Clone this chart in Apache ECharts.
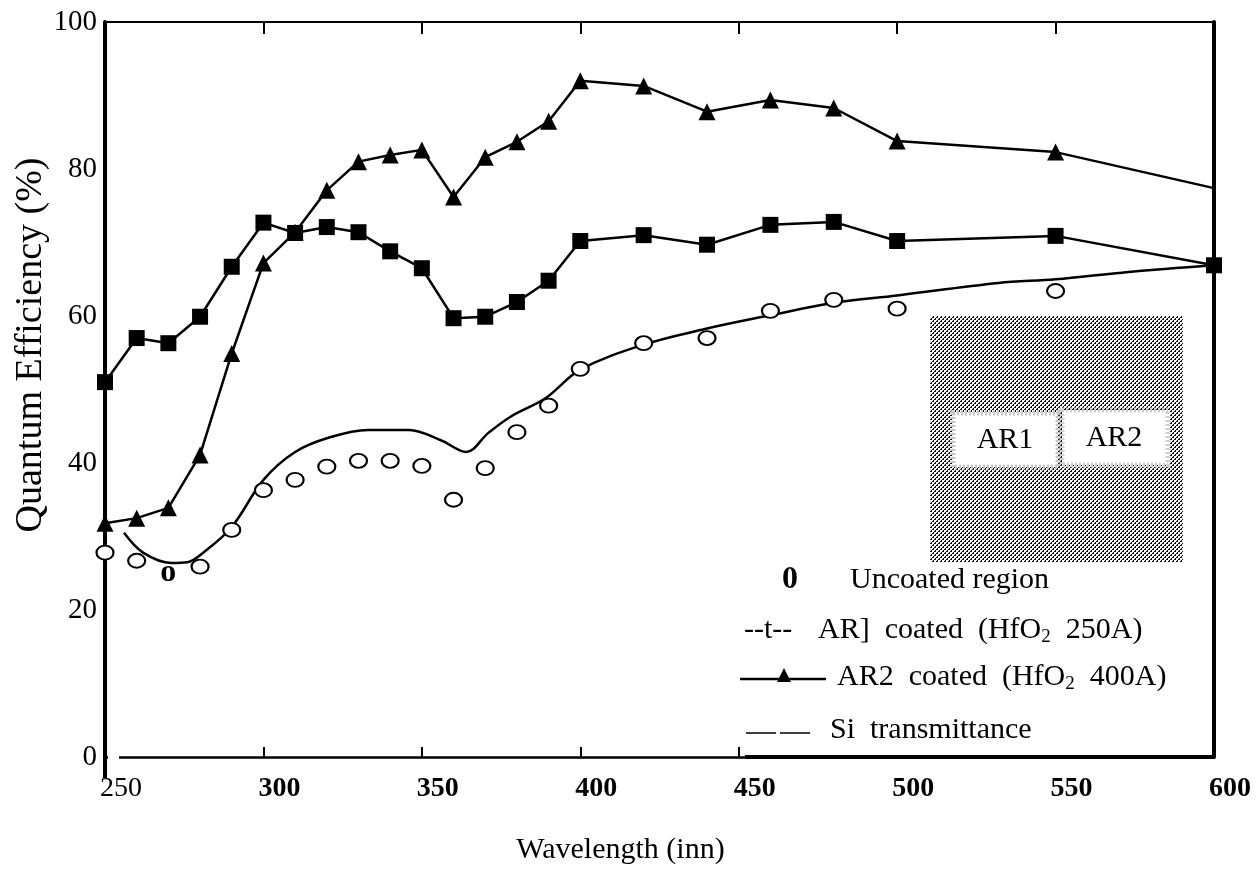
<!DOCTYPE html>
<html>
<head>
<meta charset="utf-8">
<script src="https://cdn.jsdelivr.net/npm/echarts@6/dist/echarts.min.js"></script>
<style>
html,body{margin:0;padding:0;background:#fff;}
#c{width:1257px;height:873px;}
</style>
</head>
<body>
<div id="c"></div>
<script>
// ---- data ----
var xTicks = [250, 300, 350, 400, 450, 500, 550, 600];
var yTicks = [0, 20, 40, 60, 80, 100];

var ar1Wave = [250,260,270,280,290,300,310,320,330,340,350,360,370,380,390,400,420,440,460,480,500,550,600];
var ar1QE   = [51.0,57.0,56.3,59.9,66.7,72.7,71.3,72.1,71.4,68.8,66.5,59.7,59.9,61.9,64.8,70.2,71.0,69.7,72.4,72.8,70.2,70.9,66.9];

var ar2Wave = [250,260,270,280,290,300,310,320,330,340,350,360,370,380,390,400,420,440,460,480,500,550,600];
var ar2QE   = [31.8,32.5,33.9,41.1,54.9,67.2,71.4,77.1,81.0,81.9,82.6,76.2,81.6,83.7,86.5,92.0,91.3,87.8,89.4,88.3,83.8,82.3,77.4];

var uncWave = [250,260,270,280,290,300,310,320,330,340,350,360,370,380,390,400,420,440,460,480,500,550];
var uncQE   = [27.8,26.7,24.4,25.9,30.9,36.3,37.7,39.5,40.3,40.3,39.6,35.0,39.3,44.2,47.8,52.8,56.3,57.0,60.7,62.2,61.0,63.4];

var siWave = [256,262,271,276,281,290,300,310,321,333,346,356,364,371,378,389,400,420,440,460,480,500,532,550,573,600];
var siT    = [30.5,27.8,26.4,26.5,27.8,31.3,37.7,41.5,43.5,44.5,44.5,43.1,41.5,44.1,46.3,48.8,52.7,56.1,58.3,60.1,61.8,62.8,64.5,65.0,66.0,66.9];

var FONT = 'Liberation Serif';

function pairs(xs, ys){ return xs.map(function(x,i){ return [x, ys[i]]; }); }

// halftone pattern for inset
function halftone(){
  var c = document.createElement('canvas'); c.width = 4; c.height = 4;
  var g = c.getContext('2d');
  g.fillStyle = '#fff'; g.fillRect(0,0,4,4);
  g.fillStyle = '#111';
  g.fillRect(0,0,2,2); g.fillRect(2,2,2,2);
  g.fillStyle = '#ddd';
  g.fillRect(0,0,1,1); g.fillRect(2,2,1,1);
  return c;
}

var ar2Data = pairs(ar2Wave, ar2QE).map(function(p,i){
  return i === ar2Wave.length-1 ? {value:p, symbol:'none'} : p;
});
var uncData = pairs(uncWave, uncQE).map(function(p){
  if (p[0] === 270) {
    return {value:p, symbolSize:0, label:{show:true, position:'inside', formatter:'o', fontFamily:FONT, fontWeight:'bold', fontSize:32, color:'#000', offset:[0,-5]}};
  }
  return p;
});

var chart = echarts.init(document.getElementById('c'), null, {renderer:'canvas'});
var option = {
  backgroundColor:'#fff',
  animation:false,
  grid:{left:105, right:43, top:22, bottom:116, containLabel:false, outerBoundsMode:'none'},
  xAxis:[{
    type:'value', min:250, max:600, interval:50, position:'bottom',
    axisLine:{show:true, onZero:false, lineStyle:{color:'#000', width:2.5}},
    axisTick:{show:true, inside:true, length:10, customValues:[300,350,400,450], lineStyle:{color:'#000', width:2}},
    axisLabel:{show:true, margin:18, color:'#000', padding:[0,0,0,32], customValues: xTicks,
      formatter:function(v){ return v === 250 ? '{r|' + v + '}' : '{b|' + v + '}'; },
      rich:{r:{fontFamily:FONT, fontSize:28, color:'#000'}, b:{fontFamily:FONT, fontSize:28, fontWeight:'bold', color:'#000'}}},
    splitLine:{show:false},
    name:'Wavelength (inn)', nameLocation:'middle', nameGap:78,
    nameTextStyle:{fontFamily:FONT, fontSize:30, color:'#000', padding:[0,78,0,0]}
  },{
    type:'value', min:250, max:600, interval:50, position:'top',
    axisLine:{show:true, onZero:false, lineStyle:{color:'#000', width:2}},
    axisTick:{show:true, inside:true, length:12, customValues:[300,350,400,450,500,550], lineStyle:{color:'#000', width:2}},
    axisLabel:{show:false}, splitLine:{show:false}
  }],
  yAxis:[{
    type:'value', min:0, max:100, interval:20, position:'left',
    axisLine:{show:true, onZero:false, lineStyle:{color:'#000', width:4}},
    axisTick:{show:false},
    axisLabel:{margin:8, fontFamily:FONT, fontSize:29, color:'#000', customValues: yTicks},
    splitLine:{show:false}
  },{
    type:'value', min:0, max:100, interval:20, position:'right',
    axisLine:{show:true, onZero:false, lineStyle:{color:'#000', width:4}},
    axisTick:{show:false}, axisLabel:{show:false}, splitLine:{show:false}
  }],
  series:[
    {
      name:'Si transmittance', type:'line', data:pairs(siWave, siT), smooth:0.35,
      symbol:'none', lineStyle:{color:'#000', width:2.5}, z:2
    },
    {
      name:'AR1', type:'line', data:pairs(ar1Wave, ar1QE), symbol:'rect', symbolSize:16,
      itemStyle:{color:'#000'}, lineStyle:{color:'#000', width:2.5}, z:3, clip:false
    },
    {
      name:'AR2', type:'line', data:ar2Data, symbol:'triangle', symbolSize:17,
      itemStyle:{color:'#000'}, lineStyle:{color:'#000', width:2.5}, z:3, clip:false
    },
    {
      name:'Uncoated', type:'scatter', data:uncData, symbol:'circle', symbolSize:[17,14],
      itemStyle:{color:'#fff', borderColor:'#000', borderWidth:2, opacity:1}, z:4
    }
  ],
  graphic:[
    // axis title (rotated)
    {type:'text', x:31, y:345, rotation:Math.PI/2, style:{text:'Quantum Efficiency (%)', font:'38px "Liberation Serif"', fill:'#000', align:'center', verticalAlign:'middle'}, z:12},
    // left axis continues a little below the frame, bottom frame starts after a gap
    {type:'line', shape:{x1:105, y1:757, x2:105, y2:778}, style:{stroke:'#000', lineWidth:4}, z:12},
    {type:'line', shape:{x1:108, y1:757, x2:119, y2:757}, style:{stroke:'#fff', lineWidth:4}, z:12},
    // inset
    {type:'rect', shape:{x:930, y:316, width:253, height:246}, style:{fill:{image:halftone(), repeat:'repeat'}}, z:10},
    {type:'rect', shape:{x:953, y:413, width:105, height:54}, style:{fill:'#fff', stroke:'#c8c8c8', lineWidth:5, lineDash:[2,2]}, z:11},
    {type:'rect', shape:{x:1062, y:410, width:106, height:55}, style:{fill:'#fff', stroke:'#d0d0d0', lineWidth:5, lineDash:[2,2]}, z:11},
    {type:'text', x:1005, y:440, style:{text:'AR1', font:'30px "Liberation Serif"', fill:'#000', align:'center', verticalAlign:'middle'}, z:12},
    {type:'text', x:1114, y:438, style:{text:'AR2', font:'30px "Liberation Serif"', fill:'#000', align:'center', verticalAlign:'middle'}, z:12},
    // legend
    {type:'text', x:790, y:580, style:{text:'0', font:'bold 32px "Liberation Serif"', fill:'#000', align:'center', verticalAlign:'middle'}, z:12},
    {type:'text', x:850, y:580, style:{text:'Uncoated region', font:'30px "Liberation Serif"', fill:'#000', align:'left', verticalAlign:'middle'}, z:12},
    {type:'text', x:744, y:630, style:{text:'--t--', font:'30px "Liberation Serif"', fill:'#000', align:'left', verticalAlign:'middle'}, z:12},
    {type:'text', x:818, y:630, style:{
      text:'{n|AR]  coated  (HfO}{s|2}{n|  250A)}',
      rich:{n:{font:'30px "Liberation Serif"', fill:'#000', lineHeight:34, verticalAlign:'middle'},
            s:{font:'19px "Liberation Serif"', fill:'#000', lineHeight:34, verticalAlign:'bottom'}},
      align:'left', verticalAlign:'middle'}, z:12},
    {type:'line', shape:{x1:740, y1:679, x2:826, y2:679}, style:{stroke:'#000', lineWidth:2.5}, z:12},
    {type:'polygon', shape:{points:[[784,668],[777,682],[791,682]]}, style:{fill:'#000'}, z:12},
    {type:'text', x:837, y:677, style:{
      text:'{n|AR2  coated  (HfO}{s|2}{n|  400A)}',
      rich:{n:{font:'30px "Liberation Serif"', fill:'#000', lineHeight:34, verticalAlign:'middle'},
            s:{font:'19px "Liberation Serif"', fill:'#000', lineHeight:34, verticalAlign:'bottom'}},
      align:'left', verticalAlign:'middle'}, z:12},
    {type:'line', shape:{x1:746, y1:733, x2:811, y2:733}, style:{stroke:'#000', lineWidth:1.5, lineDash:[30,4]}, z:12},
    {type:'text', x:830, y:730, style:{text:'Si  transmittance', font:'30px "Liberation Serif"', fill:'#000', align:'left', verticalAlign:'middle'}, z:12},
    // thicker legend-box bottom edge
    {type:'line', shape:{x1:745, y1:757, x2:1214, y2:757}, style:{stroke:'#000', lineWidth:4}, z:12}
  ]
};
chart.setOption(option);
</script>
</body>
</html>
